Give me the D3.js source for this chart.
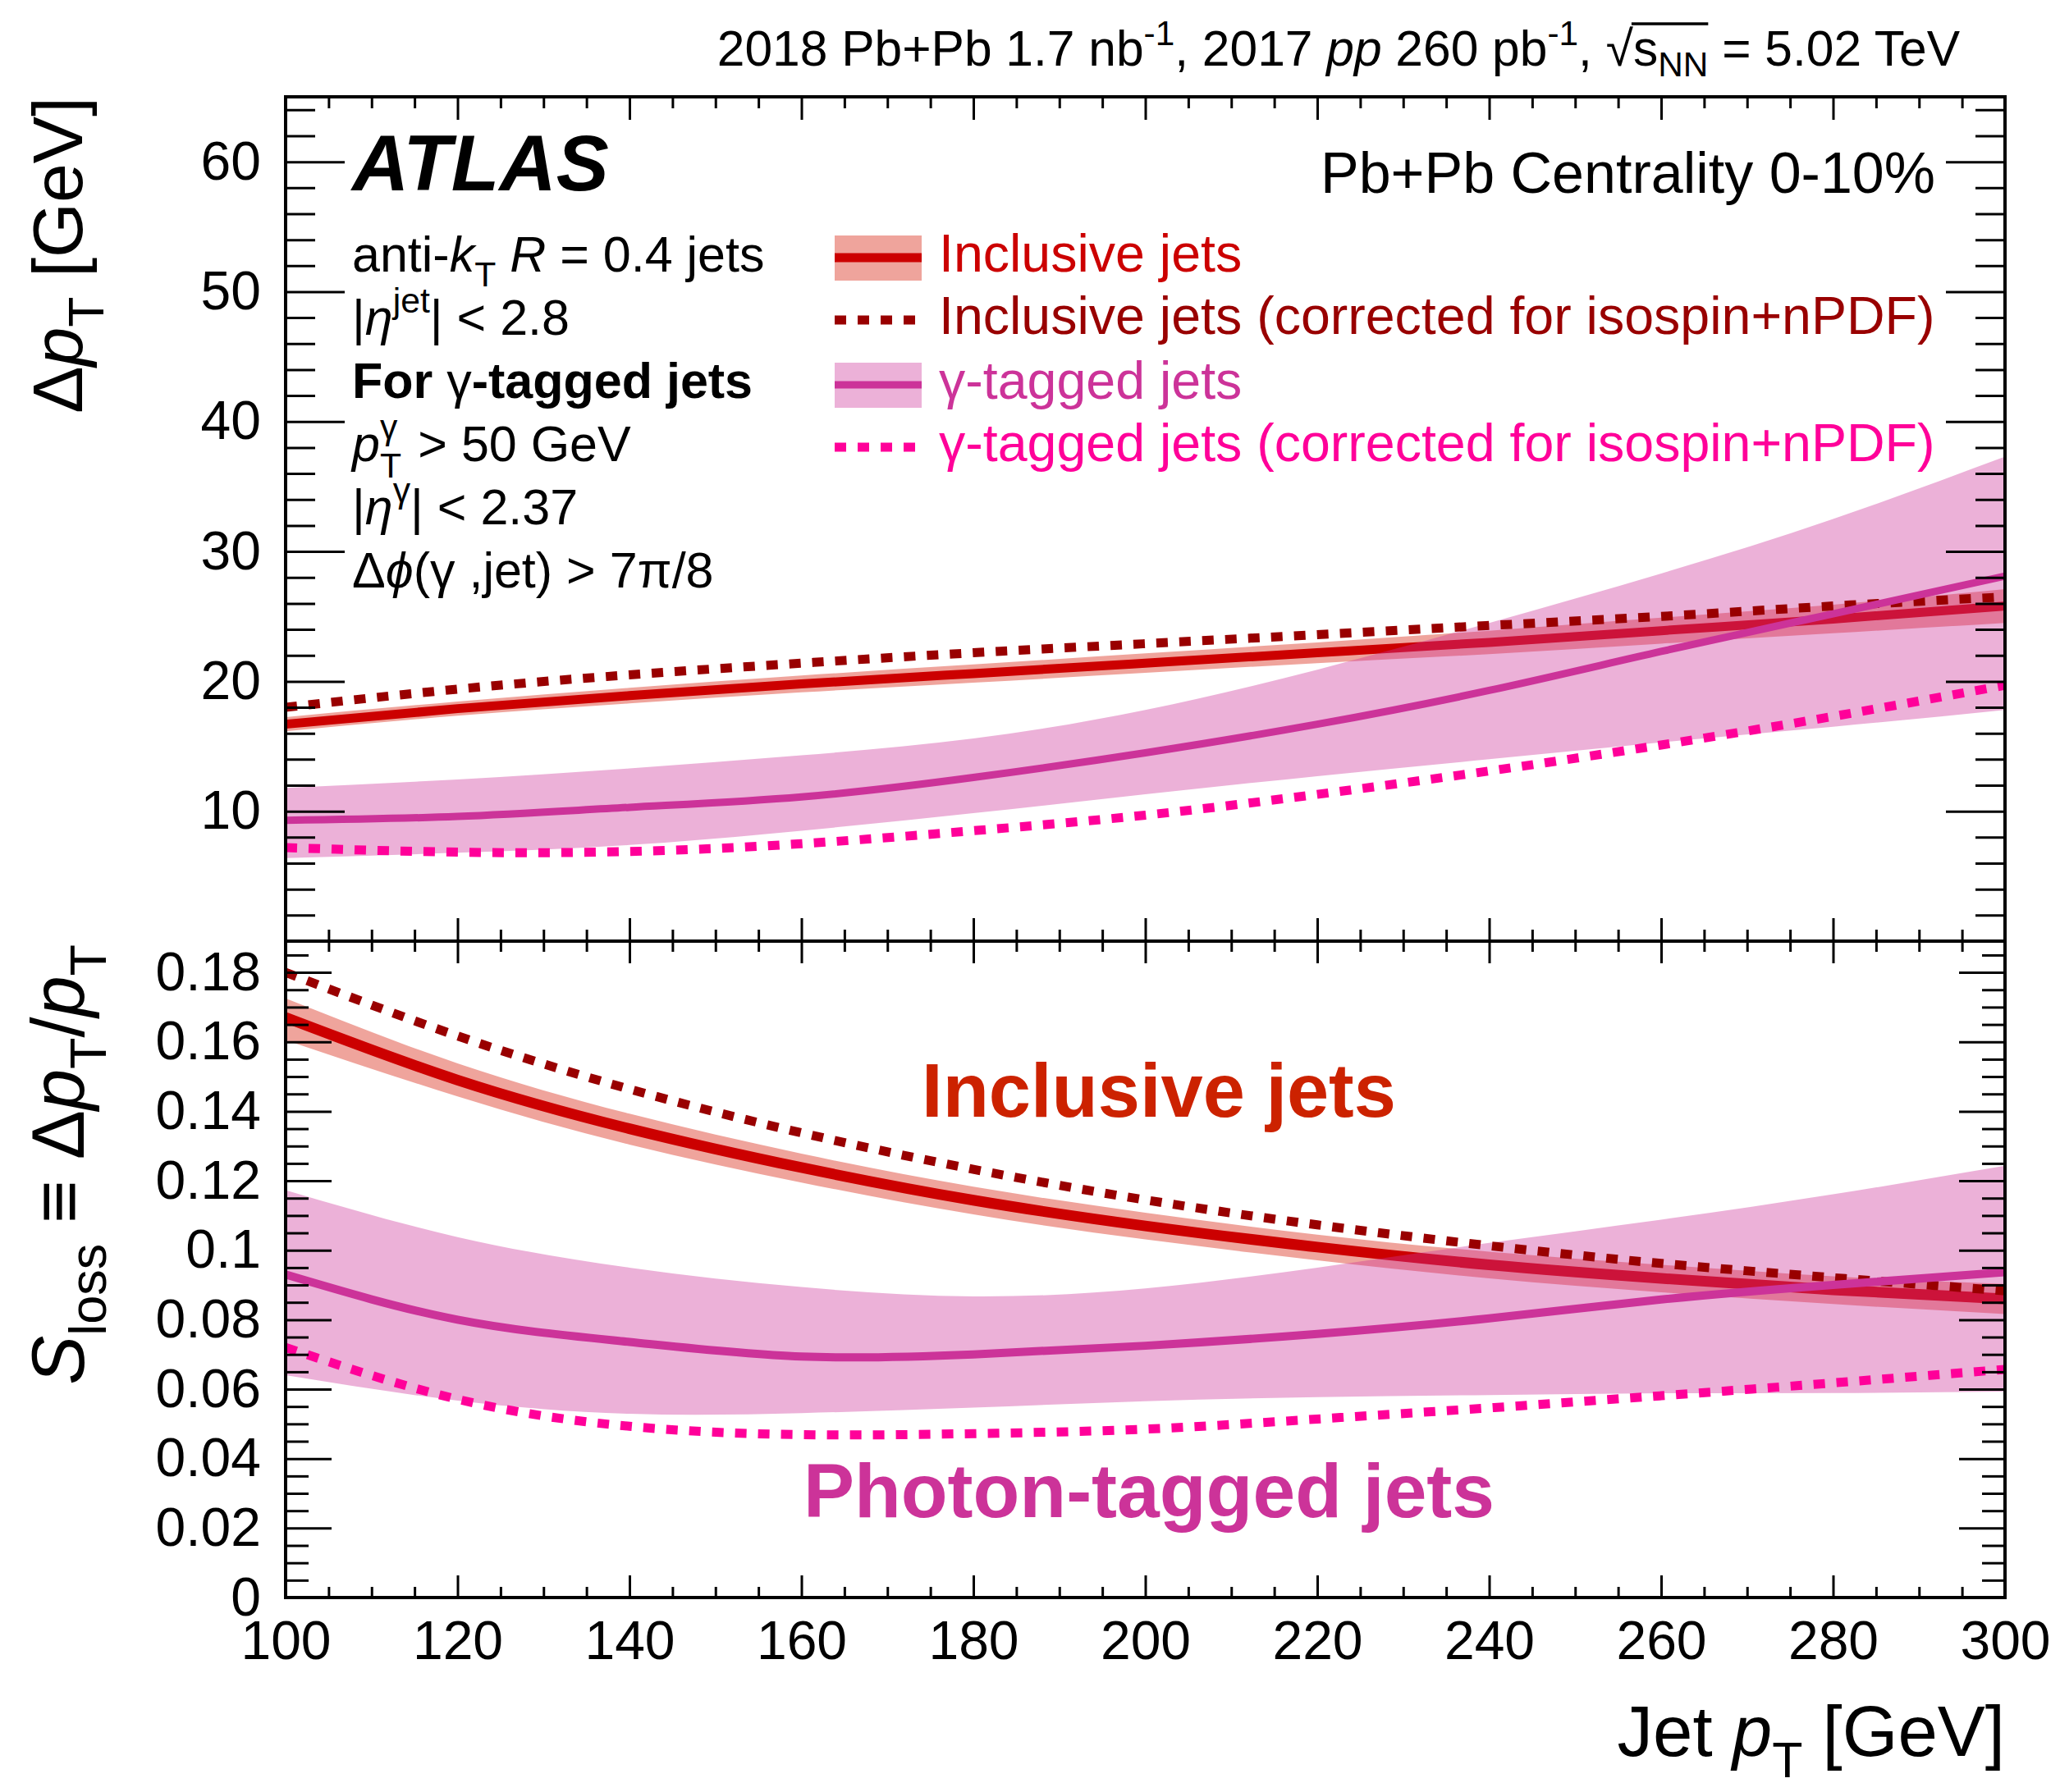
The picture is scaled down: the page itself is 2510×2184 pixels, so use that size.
<!DOCTYPE html>
<html>
<head>
<meta charset="utf-8">
<script src="https://cdn.jsdelivr.net/npm/d3@7"></script>
<style>
  body { margin: 0; background: #fff; }
  svg text { font-family: "Liberation Sans", Arial, Helvetica, sans-serif; }
</style>
</head>
<body>
<svg id="chart" width="2510" height="2184"></svg>
<script>
// ---- data: jet pT grid [GeV] ----
const jetPt = [100, 120, 140, 160, 180, 200, 220, 240, 260, 280, 300];

// Upper panel: Delta pT [GeV]
const incDpt      = [16.7, 17.9, 18.9, 19.8, 20.6, 21.4, 22.2, 23.0, 23.9, 24.8, 25.8];
const incDptLo    = [16.15, 17.35, 18.3, 19.15, 19.9, 20.65, 21.4, 22.1, 22.9, 23.7, 24.5];
const incDptHi    = [17.25, 18.45, 19.5, 20.45, 21.3, 22.15, 23.0, 23.9, 24.9, 25.9, 27.1];
const incCorrDpt  = [18.0, 19.4, 20.5, 21.4, 22.2, 22.9, 23.6, 24.3, 25.0, 25.8, 26.5];
const gamDpt      = [9.3, 9.6, 10.3, 11.1, 12.6, 14.5, 16.7, 19.3, 22.3, 25.2, 28.1];
const gamDptLo    = [6.4, 6.8, 7.4, 8.5, 9.85, 11.3, 12.7, 14.0, 15.3, 16.5, 17.8];
const gamDptHi    = [11.8, 12.45, 13.3, 14.3, 15.6, 17.8, 20.9, 24.5, 28.3, 32.5, 37.3];
const gamCorrDpt  = [7.2, 6.85, 6.9, 7.5, 8.5, 9.7, 11.3, 13.1, 15.1, 17.3, 19.7];

// Lower panel: S_loss = Delta pT / pT
const incS      = [0.167, 0.149, 0.135, 0.1238, 0.1144, 0.107, 0.1009, 0.0958, 0.0919, 0.0886, 0.086];
const incSLo    = [0.1605, 0.1443, 0.1304, 0.1195, 0.1103, 0.1031, 0.0971, 0.0919, 0.0879, 0.0845, 0.0816];
const incSHi    = [0.1725, 0.1538, 0.1393, 0.1278, 0.1183, 0.1108, 0.1045, 0.0996, 0.0958, 0.0925, 0.0903];
const incCorrS  = [0.180, 0.1617, 0.1464, 0.1338, 0.1233, 0.1145, 0.1073, 0.1013, 0.0962, 0.0921, 0.0883];
const gamS      = [0.093, 0.080, 0.0736, 0.0694, 0.070, 0.0725, 0.0759, 0.0804, 0.0858, 0.090, 0.0937];
const gamSLo    = [0.064, 0.0567, 0.0529, 0.0531, 0.0547, 0.0565, 0.0577, 0.0583, 0.0588, 0.0589, 0.0593];
const gamSHi    = [0.1173, 0.1038, 0.095, 0.0894, 0.0867, 0.089, 0.095, 0.1021, 0.1088, 0.1161, 0.1243];
const gamCorrS  = [0.072, 0.0571, 0.0493, 0.0469, 0.0472, 0.0485, 0.0514, 0.0546, 0.0581, 0.0618, 0.0657];

// ---- tick values / labels ----
const ptTicks = [100, 120, 140, 160, 180, 200, 220, 240, 260, 280, 300];
const dptTicks = [10, 20, 30, 40, 50, 60];
const slossTicks = [0, 0.02, 0.04, 0.06, 0.08, 0.1, 0.12, 0.14, 0.16, 0.18];
const slossTickLabels = ["0", "0.02", "0.04", "0.06", "0.08", "0.1", "0.12", "0.14", "0.16", "0.18"];

// ---- colours ----
const C_INC = "#cc0000", C_INC_CORR = "#990000", C_INC_BAND = "rgba(213,20,0,0.39)";
const C_GAM = "#cc3399", C_GAM_CORR = "#ff0099", C_GAM_BAND = "rgba(204,51,153,0.38)";
const FONT = '"Liberation Sans", Arial, Helvetica, sans-serif';

// ---- layout ----
const X0 = 348, X1 = 2443;
const TOP0 = 118, MID = 1147, BOT = 1947;

const svg = d3.select("#chart");
const x = d3.scaleLinear().domain([100, 300]).range([X0, X1]);
const yTop = d3.scaleLinear().domain([0, 65]).range([MID, TOP0]);
const yBot = d3.scaleLinear().domain([0, 0.189]).range([BOT, MID]);

const defs = svg.append("defs");
defs.append("clipPath").attr("id", "clipTop").append("rect")
  .attr("x", X0).attr("y", TOP0).attr("width", X1 - X0).attr("height", MID - TOP0);
defs.append("clipPath").attr("id", "clipBot").append("rect")
  .attr("x", X0).attr("y", MID).attr("width", X1 - X0).attr("height", BOT - MID);

// ---- curves ----
function drawPanel(y, clipId, s, widths) {
  const g = svg.append("g").attr("clip-path", `url(#${clipId})`);
  const area = (lo, hi) => d3.area()
    .x((d, i) => x(jetPt[i])).y0((d, i) => y(lo[i])).y1((d, i) => y(hi[i]))
    .curve(d3.curveNatural)(jetPt);
  const line = (v) => d3.line()
    .x((d, i) => x(jetPt[i])).y(d => y(d)).curve(d3.curveNatural)(v);

  g.append("path").attr("d", area(s.incLo, s.incHi)).attr("fill", C_INC_BAND);
  g.append("path").attr("d", line(s.inc)).attr("fill", "none")
    .attr("stroke", C_INC).attr("stroke-width", widths.inc);
  g.append("path").attr("d", area(s.gamLo, s.gamHi)).attr("fill", C_GAM_BAND);
  g.append("path").attr("d", line(s.incCorr)).attr("fill", "none")
    .attr("stroke", C_INC_CORR).attr("stroke-width", 11).attr("stroke-dasharray", "14,14");
  g.append("path").attr("d", line(s.gam)).attr("fill", "none")
    .attr("stroke", C_GAM).attr("stroke-width", widths.gam);
  g.append("path").attr("d", line(s.gamCorr)).attr("fill", "none")
    .attr("stroke", C_GAM_CORR).attr("stroke-width", 11).attr("stroke-dasharray", "14,14");
}

drawPanel(yTop, "clipTop", {
  inc: incDpt, incLo: incDptLo, incHi: incDptHi, incCorr: incCorrDpt,
  gam: gamDpt, gamLo: gamDptLo, gamHi: gamDptHi, gamCorr: gamCorrDpt
}, { inc: 11, gam: 9 });

drawPanel(yBot, "clipBot", {
  inc: incS, incLo: incSLo, incHi: incSHi, incCorr: incCorrS,
  gam: gamS, gamLo: gamSLo, gamHi: gamSHi, gamCorr: gamCorrS
}, { inc: 13, gam: 10 });

// ---- axes and frames ----
function styleAxis(sel, size) {
  sel.select(".domain").remove();
  sel.attr("font-family", FONT).attr("font-size", size || 66);
  sel.selectAll(".tick line").attr("stroke", "#000").attr("stroke-width", 3);
  sel.selectAll(".tick text").attr("fill", "#000");
}

function drawFrame(y, yMajor, yMinor, yFmt, yMaj, yMin, xMaj, xMin, xLabels) {
  const [yb, yt] = y.range();
  const xMinor = d3.range(100, 300.1, 5).filter(v => v % 20 !== 0);
  // left
  svg.append("g").attr("transform", `translate(${X0},0)`)
    .call(d3.axisLeft(y).tickValues(yMajor).tickSizeInner(-yMaj).tickSizeOuter(0)
      .tickPadding(30).tickFormat(yFmt)).call(styleAxis);
  svg.append("g").attr("transform", `translate(${X0},0)`)
    .call(d3.axisLeft(y).tickValues(yMinor).tickSizeInner(-yMin).tickSizeOuter(0)
      .tickFormat("")).call(styleAxis);
  // right
  svg.append("g").attr("transform", `translate(${X1},0)`)
    .call(d3.axisRight(y).tickValues(yMajor).tickSizeInner(-yMaj).tickSizeOuter(0)
      .tickFormat("")).call(styleAxis);
  svg.append("g").attr("transform", `translate(${X1},0)`)
    .call(d3.axisRight(y).tickValues(yMinor).tickSizeInner(-yMin).tickSizeOuter(0)
      .tickFormat("")).call(styleAxis);
  // top
  svg.append("g").attr("transform", `translate(0,${yt})`)
    .call(d3.axisTop(x).tickValues(ptTicks).tickSizeInner(-xMaj).tickSizeOuter(0)
      .tickFormat("")).call(styleAxis);
  svg.append("g").attr("transform", `translate(0,${yt})`)
    .call(d3.axisTop(x).tickValues(xMinor).tickSizeInner(-xMin).tickSizeOuter(0)
      .tickFormat("")).call(styleAxis);
  // bottom
  svg.append("g").attr("transform", `translate(0,${yb})`)
    .call(d3.axisBottom(x).tickValues(ptTicks).tickSizeInner(-xMaj).tickSizeOuter(0)
      .tickPadding(28).tickFormat(xLabels ? d3.format("d") : "")).call(styleAxis);
  svg.append("g").attr("transform", `translate(0,${yb})`)
    .call(d3.axisBottom(x).tickValues(xMinor).tickSizeInner(-xMin).tickSizeOuter(0)
      .tickFormat("")).call(styleAxis);
  // frame
  svg.append("rect").attr("x", X0).attr("y", yt).attr("width", X1 - X0).attr("height", yb - yt)
    .attr("fill", "none").attr("stroke", "#000").attr("stroke-width", 4);
}

drawFrame(yTop, dptTicks, d3.range(2, 65, 2).filter(v => v % 10 !== 0), d3.format("d"),
  72, 36, 28, 14, false);
drawFrame(yBot, slossTicks, d3.range(1, 38).filter(i => i % 4 !== 0).map(i => i * 0.005),
  (d, i) => slossTickLabels[i], 56, 28, 27, 13, true);

// ---- rich text helper (italic, bold, sub/superscripts) ----
function rich(parent, parts, size, attrs) {
  const t = parent.append("text").attr("font-size", size);
  Object.entries(attrs || {}).forEach(([k, v]) => t.attr(k, v));
  let cur = 0;
  parts.forEach(p => {
    const target = p.sup ? -p.sup * size : p.sub ? p.sub * size : 0;
    const ts = t.append("tspan").text(p.t);
    if (target - cur !== 0) ts.attr("dy", target - cur);
    if (p.sup || p.sub) ts.attr("font-size", size * (p.scale || 0.7));
    if (p.it) ts.attr("font-style", "italic");
    if (p.b) ts.attr("font-weight", "bold");
    if (p.nb) ts.attr("font-weight", "normal");
    if (p.dx) ts.attr("dx", p.dx);
    cur = target;
  });
  return t;
}

// ---- header ----
const titleParts = [
  { t: "2018 Pb+Pb 1.7 nb" }, { t: "-1", sup: 0.42 }, { t: ", 2017 " }, { t: "pp", it: true },
  { t: " 260 pb" }, { t: "-1", sup: 0.42 }, { t: ", " }, { t: "\u221A" }, { t: "s" },
  { t: "NN", sub: 0.22 }, { t: " = 5.02 TeV" }
];
const title = rich(svg, titleParts, 60.5, { x: 2388, y: 80, "text-anchor": "end", fill: "#000" });
{
  // overbar of the square root, spanning "s_NN"
  const full = titleParts.map(p => p.t).join("");
  const iRoot = full.indexOf("\u221A");
  const iEnd = full.indexOf("NN") + 1;
  const n = title.node();
  const eRoot = n.getExtentOfChar(iRoot);
  const eEnd = n.getExtentOfChar(iEnd);
  const yBar = eRoot.y + 4;
  svg.append("line")
    .attr("x1", eRoot.x + eRoot.width - 2).attr("x2", eEnd.x + eEnd.width)
    .attr("y1", yBar).attr("y2", yBar)
    .attr("stroke", "#000").attr("stroke-width", 3.5);
}

// ---- in-frame labels ----
svg.append("text").attr("x", 429).attr("y", 232).attr("font-size", 96)
  .attr("font-weight", "bold").attr("font-style", "italic").text("ATLAS");

svg.append("text").attr("x", 2358).attr("y", 235).attr("font-size", 70)
  .attr("text-anchor", "end").text("Pb+Pb Centrality 0-10%");

const info = [
  [{ t: "anti-" }, { t: "k", it: true }, { t: "T", sub: 0.3 }, { t: " " }, { t: "R", it: true }, { t: " = 0.4 jets" }],
  [{ t: "|" }, { t: "\u03B7", it: true }, { t: "jet", sup: 0.45 }, { t: "| < 2.8" }],
  [{ t: "For  " , b: true }, { t: "\u03B3", nb: true }, { t: "-tagged jets", b: true }],
  [{ t: "p", it: true }, { t: "T", sub: 0.32 }, { t: "\u03B3", sup: 0.45, dx: -26 }, { t: " > 50 GeV", dx: 8 }],
  [{ t: "|" }, { t: "\u03B7", it: true }, { t: "\u03B3", sup: 0.45 }, { t: "| < 2.37" }],
  [{ t: "\u0394" }, { t: "\u03D5", it: true }, { t: "(\u03B3 ,jet) > 7\u03C0/8" }]
];
const infoBase = [331, 408, 485, 562, 639, 716];
info.forEach((parts, i) => rich(svg, parts, 61, { x: 429, y: infoBase[i], fill: "#000" }));

// ---- legend ----
const legend = [
  { label: "Inclusive jets", color: C_INC, band: C_INC_BAND, line: C_INC, w: 11 },
  { label: "Inclusive jets (corrected for isospin+nPDF)", color: C_INC_CORR, dotted: C_INC_CORR },
  { label: "\u03B3-tagged jets", color: C_GAM, band: C_GAM_BAND, line: C_GAM, w: 9 },
  { label: "\u03B3-tagged jets (corrected for isospin+nPDF)", color: C_GAM_CORR, dotted: C_GAM_CORR }
];
const legendMid = [314, 390, 469, 545];
legend.forEach((e, i) => {
  const cy = legendMid[i];
  if (e.band) {
    svg.append("rect").attr("x", 1017).attr("y", cy - 27).attr("width", 106).attr("height", 55)
      .attr("fill", e.band);
    svg.append("line").attr("x1", 1017).attr("x2", 1123).attr("y1", cy).attr("y2", cy)
      .attr("stroke", e.line).attr("stroke-width", e.w);
  } else {
    svg.append("line").attr("x1", 1017).attr("x2", 1116).attr("y1", cy).attr("y2", cy)
      .attr("stroke", e.dotted).attr("stroke-width", 11).attr("stroke-dasharray", "14,14");
  }
  svg.append("text").attr("x", 1144).attr("y", cy + 17).attr("font-size", 64.5)
    .attr("fill", e.color).text(e.label);
});

// ---- lower panel annotations ----
svg.append("text").attr("x", 1412).attr("y", 1361).attr("font-size", 92).attr("font-weight", "bold")
  .attr("text-anchor", "middle").attr("fill", "#cc2200").text("Inclusive jets");
svg.append("text").attr("x", 1400).attr("y", 1849).attr("font-size", 93).attr("font-weight", "bold")
  .attr("text-anchor", "middle").attr("fill", C_GAM).text("Photon-tagged jets");

// ---- axis titles ----
rich(svg, [{ t: "\u0394" }, { t: "p", it: true }, { t: "T", sub: 0.3 }, { t: " [GeV]" }], 86,
  { "text-anchor": "end", transform: `translate(100,${TOP0}) rotate(-90)` });
rich(svg, [{ t: "S", it: true }, { t: "loss", sub: 0.3 }, { t: " \u2261 \u0394" }, { t: "p", it: true },
  { t: "T", sub: 0.3 }, { t: "/" }, { t: "p", it: true }, { t: "T", sub: 0.3 }], 90,
  { "text-anchor": "end", transform: `translate(102,${MID + 4}) rotate(-90)` });
rich(svg, [{ t: "Jet  " }, { t: "p", it: true }, { t: "T", sub: 0.3 }, { t: " [GeV]" }], 87,
  { "text-anchor": "end", x: X1, y: 2140 });
</script>
</body>
</html>
